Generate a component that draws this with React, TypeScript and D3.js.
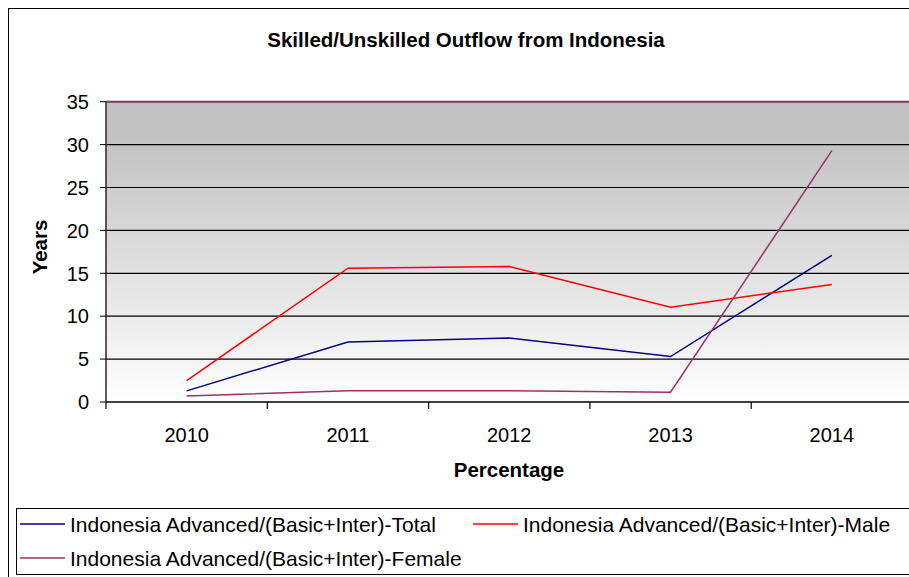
import React from "react";
import * as d3 from "d3";

const years = ["2010", "2011", "2012", "2013", "2014"];
const totalValues = [1.3, 7.0, 7.45, 5.3, 17.1];
const maleValues = [2.5, 15.6, 15.8, 11.05, 13.7];
const femaleValues = [0.7, 1.3, 1.3, 1.15, 29.3];
const yTicks = [0, 5, 10, 15, 20, 25, 30, 35];
const seriesNames = [
  "Indonesia Advanced/(Basic+Inter)-Total",
  "Indonesia Advanced/(Basic+Inter)-Male",
  "Indonesia Advanced/(Basic+Inter)-Female",
];
const seriesColors = ["#000080", "#ff0000", "#993366"];

const W = 909;
const H = 577;
const plotLeft = 106;
const plotRight = 912.5;
const plotTop = 101.7;
const plotBottom = 402;
const FONT = "Liberation Sans, Arial, sans-serif";

export default function App() {
  const x = d3.scaleBand<string>().domain(years).range([plotLeft, plotRight]);
  const y = d3.scaleLinear().domain([0, 35]).range([plotBottom, plotTop]);
  const line = d3
    .line<number>()
    .x((_, i) => (x(years[i]) as number) + x.bandwidth() / 2)
    .y((d) => y(d));
  const series = [totalValues, maleValues, femaleValues];
  const boundaries = d3.range(years.length + 1).map((i) => plotLeft + i * x.step());

  return (
    <svg
      width={W}
      height={H}
      style={{ position: "absolute", left: 0, top: 0, background: "#fff" }}
      fontFamily={FONT}
    >
      <defs>
        <linearGradient id="bg" x1="0" y1="0" x2="0" y2="1">
          <stop offset="0%" stopColor="#c0c0c0" />
          <stop offset="12%" stopColor="#c2c2c2" />
          <stop offset="100%" stopColor="#ffffff" />
        </linearGradient>
      </defs>
      <rect x={0} y={0} width={W} height={H} fill="#fff" />
      {/* outer chart border */}
      <rect x={8.5} y={8.5} width={W + 10} height={H + 10} fill="none" stroke="#000" strokeWidth={1} />

      <text x={466} y={47} textAnchor="middle" fontSize={20.5} fontWeight="bold" fill="#000">
        Skilled/Unskilled Outflow from Indonesia
      </text>

      {/* plot background */}
      <rect x={plotLeft} y={plotTop} width={plotRight - plotLeft} height={plotBottom - plotTop} fill="url(#bg)" />

      {/* gridlines */}
      {yTicks
        .filter((t) => t > 0 && t < 35)
        .map((t) => (
          <line key={t} x1={plotLeft} x2={plotRight} y1={y(t)} y2={y(t)} stroke="#000" strokeWidth={1.2} />
        ))}
      <line x1={plotLeft} x2={plotRight} y1={y(35)} y2={y(35)} stroke="#7b3a5e" strokeWidth={2} />

      {/* y axis */}
      <line x1={plotLeft} x2={plotLeft} y1={plotTop} y2={plotBottom} stroke="#3a1f30" strokeWidth={1.5} />
      {yTicks.map((t) => (
        <g key={t}>
          <line x1={plotLeft - 6} x2={plotLeft} y1={y(t)} y2={y(t)} stroke="#000" strokeWidth={1} />
          <text x={89} y={y(t)} dy="0.36em" textAnchor="end" fontSize={20} fill="#000">
            {t}
          </text>
        </g>
      ))}

      {/* x axis */}
      <line x1={plotLeft} x2={plotRight} y1={plotBottom} y2={plotBottom} stroke="#000" strokeWidth={1.5} />
      {boundaries.map((b, i) => (
        <line key={i} x1={b} x2={b} y1={plotBottom} y2={plotBottom + 7} stroke="#000" strokeWidth={1.2} />
      ))}
      {years.map((yr) => (
        <text key={yr} x={(x(yr) as number) + x.bandwidth() / 2} y={442} textAnchor="middle" fontSize={20} fill="#000">
          {yr}
        </text>
      ))}

      {/* series */}
      {series.map((vals, i) => (
        <path key={i} d={line(vals) as string} fill="none" stroke={seriesColors[i]} strokeWidth={1.5} />
      ))}

      <text x={509} y={477} textAnchor="middle" fontSize={20.5} fontWeight="bold" fill="#000">
        Percentage
      </text>
      <text
        transform="translate(47,247) rotate(-90)"
        textAnchor="middle"
        fontSize={20.5}
        fontWeight="bold"
        fill="#000"
      >
        Years
      </text>

      {/* legend */}
      <rect x={16.5} y={508.5} width={W} height={66} fill="#fff" stroke="#000" strokeWidth={1} />
      {[
        { lx: 20, ly: 524, i: 0 },
        { lx: 473, ly: 524, i: 1 },
        { lx: 20, ly: 558, i: 2 },
      ].map(({ lx, ly, i }) => (
        <g key={i}>
          <line x1={lx} x2={lx + 45} y1={ly} y2={ly} stroke={seriesColors[i]} strokeWidth={1.5} />
          <text x={lx + 50} y={ly} dy="0.36em" fontSize={21} fill="#000">
            {seriesNames[i]}
          </text>
        </g>
      ))}
    </svg>
  );
}
